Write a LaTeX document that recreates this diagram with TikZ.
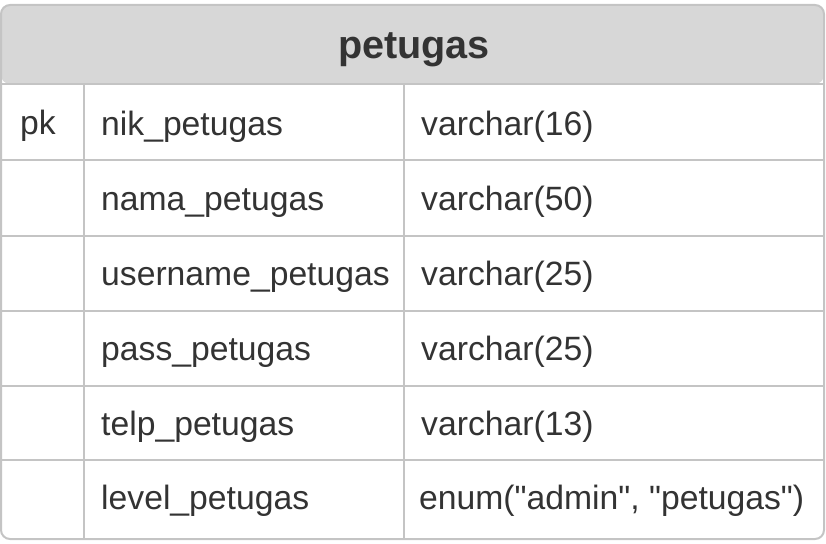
\documentclass[tikz,border=0pt]{standalone}
\usepackage{fontspec}
\setmainfont{Liberation Sans}
\definecolor{gridline}{HTML}{C4C4C4}
\definecolor{headfill}{HTML}{D7D7D7}
\definecolor{ink}{HTML}{333333}
% straight double quote, set as a glyph so the TeX mapping leaves it alone
\newcommand{\dq}{\XeTeXglyph\XeTeXcharglyph"22\relax}
\begin{document}
\begin{tikzpicture}[x=1pt,y=-1pt,
  cell/.style={anchor=base west,inner sep=0pt,text=ink,font=\fontsize{33.7}{40}\selectfont},
  title/.style={anchor=base,inner sep=0pt,text=ink,font=\fontsize{39.6}{46}\selectfont\bfseries},
  rule/.style={draw=gridline,line width=2pt}]
\useasboundingbox (0,0) rectangle (826,543);
% table frame with shaded header band
\fill[headfill,rounded corners=9pt] (1,5) -- (824,5) -- (824,84) -- (1,84) -- cycle;
\fill[white,rounded corners=9pt] (1,84) -- (824,84) -- (824,539) -- (1,539) -- cycle;
\fill[white] (1,84) rectangle (824,100);
% row and column rules
\foreach \y in {84,160,236,311,386,460}
  \draw[rule] (1,\y) -- (824,\y);
\draw[rule] (84,84) -- (84,539);
\draw[rule] (404,84) -- (404,539);
\draw[rule,rounded corners=9pt] (1,5) -- (824,5) -- (824,539) -- (1,539) -- cycle;
% header
\node[title] (tname) at (414,59) {petugas};
% key column
\node[cell] (k1) at (20,134) {pk};
% field names
\node[cell] (f1) at (101,135) {nik\_petugas};
\node[cell] (f2) at (101,210) {nama\_petugas};
\node[cell] (f3) at (101,285) {username\_petugas};
\node[cell] (f4) at (101,360) {pass\_petugas};
\node[cell] (f5) at (101,435) {telp\_petugas};
\node[cell] (f6) at (101,509) {level\_petugas};
% field types
\node[cell] (t1) at (421,135) {varchar(16)};
\node[cell] (t2) at (421,210) {varchar(50)};
\node[cell] (t3) at (421,285) {varchar(25)};
\node[cell] (t4) at (421,360) {varchar(25)};
\node[cell] (t5) at (421,435) {varchar(13)};
\node[cell] (t6) at (419,509) {enum(\dq admin\dq, \dq petugas\dq)};
\end{tikzpicture}
\end{document}
